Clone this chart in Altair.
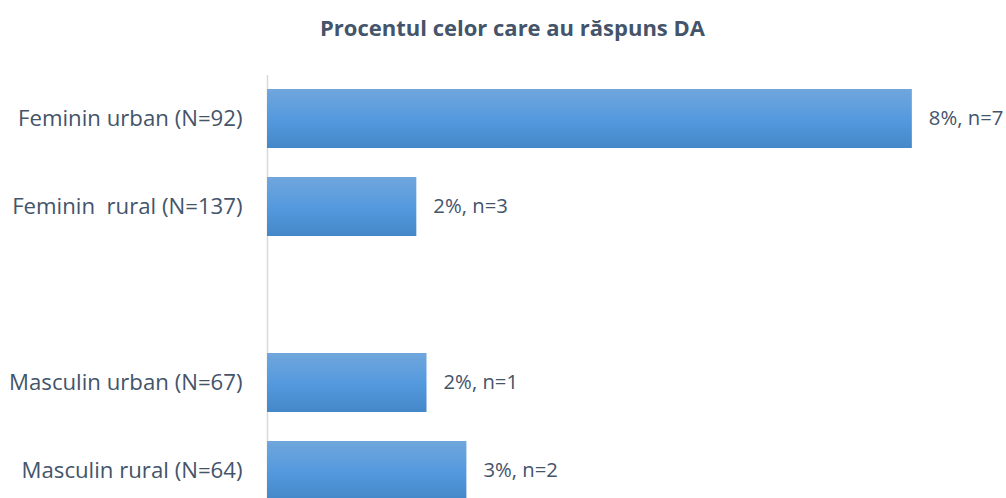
import altair as alt
import pandas as pd

# Survey groups, top to bottom; the empty entry leaves a gap between the sexes
categories = ["Feminin urban (N=92)", "Feminin\u00a0 rural (N=137)", "Masculin urban (N=67)", "Masculin rural (N=64)"]
axis_order = ["Feminin urban (N=92)", "Feminin\u00a0 rural (N=137)", " ", "Masculin urban (N=67)", "Masculin rural (N=64)"]
percent_yes = [7.6, 1.76, 1.88, 2.35]
bar_labels = ["8%, n=7", "2%, n=3", "2%, n=1", "3%, n=2"]

df = pd.DataFrame({"grup": categories, "procent": percent_yes, "eticheta": bar_labels})

TEXT = "#44546a"
FONT = "Open Sans"

fill = alt.LinearGradient(
    gradient="linear",
    x1=0, y1=0, x2=0, y2=1,
    stops=[
        alt.GradientStop(color="#70a6dc", offset=0),
        alt.GradientStop(color="#559ade", offset=0.5),
        alt.GradientStop(color="#4488c9", offset=1),
    ],
)

y_enc = alt.Y(
    "grup:N",
    sort=axis_order,
    scale=alt.Scale(domain=axis_order, paddingInner=0.33, paddingOuter=0.165),
    axis=alt.Axis(
        title=None, ticks=False, domainColor="#d9d9d9", domainWidth=1.5,
        labelFont=FONT, labelFontSize=22.2, labelColor=TEXT, labelPadding=25,
        labelLimit=400,
    ),
)
x_enc = alt.X("procent:Q", scale=alt.Scale(domain=[0, 8.25], nice=False), axis=None)

bars = alt.Chart(df).mark_bar(color=fill).encode(x=x_enc, y=y_enc)
labels = alt.Chart(df).mark_text(
    align="left", baseline="middle", dx=17, font=FONT, fontSize=20.3, color=TEXT
).encode(x=x_enc, y=y_enc, text="eticheta:N")

chart = (
    (bars + labels)
    .properties(
        width=700,
        height=440,
        autosize=alt.AutoSizeParams(type="none"),
        padding={"left": 267, "top": 74.5, "right": 39, "bottom": 0},
        title=alt.TitleParams(
            "Procentul celor care au răspuns DA",
            font=FONT, fontSize=22, fontWeight="bold", color=TEXT,
            anchor="middle", dx=-104.5, offset=34,
        ),
    )
    .configure_view(stroke=None)
)

chart.save("out.html", embed_options={"renderer": "svg", "actions": False})
